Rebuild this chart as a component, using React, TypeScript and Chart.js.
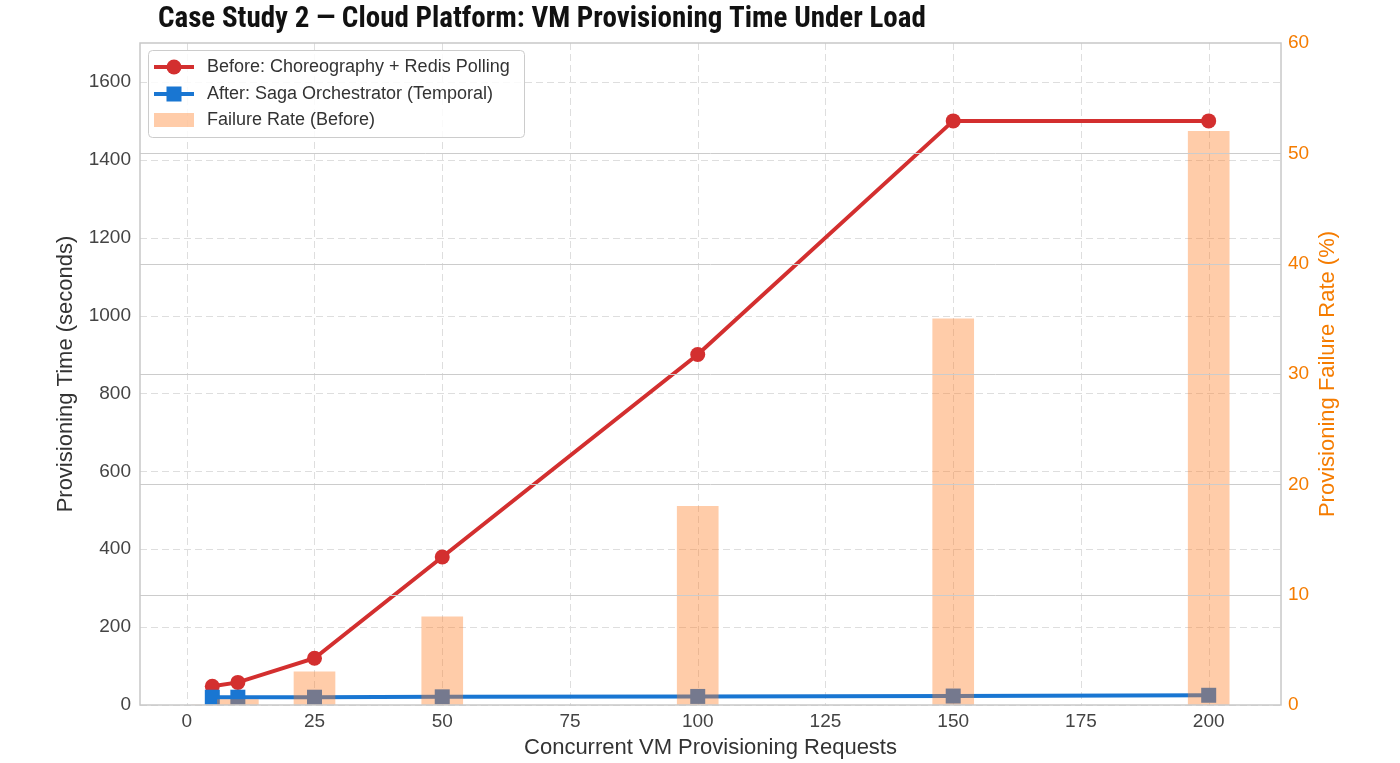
import { useEffect, useRef } from "react";
import { Chart, registerables } from "chart.js";

Chart.register(...registerables);

const requests = [5, 10, 25, 50, 100, 150, 200];
const beforeTime = [48, 58, 120, 380, 900, 1500, 1500];
const afterTime = [20, 20, 20, 21, 22, 23, 25];
const failureRate = [0, 0.5, 3, 8, 18, 35, 52];

const xTicks = [0, 25, 50, 75, 100, 125, 150, 175, 200];
const leftTicks = [0, 200, 400, 600, 800, 1000, 1200, 1400, 1600];
const rightTicks = [0, 10, 20, 30, 40, 50, 60];

const TITLE = "Case Study 2 — Cloud Platform: VM Provisioning Time Under Load";
const X_TITLE = "Concurrent VM Provisioning Requests";
const Y_TITLE = "Provisioning Time (seconds)";
const Y1_TITLE = "Provisioning Failure Rate (%)";
const LABEL_BEFORE = "Before: Choreography + Redis Polling";
const LABEL_AFTER = "After: Saga Orchestrator (Temporal)";
const LABEL_FAIL = "Failure Rate (Before)";

const RED = "#d32f2f";
const BLUE = "#1976d2";
const ORANGE = "#f57c00";
const BAR_FILL = "rgba(255,128,40,0.4)";
const FONT = '"Liberation Sans", Arial, sans-serif';

const plain = (v: any) => String(v);

const overlay = {
  id: "overlay",
  beforeDatasetsDraw(chart: any) {
    const { ctx, chartArea: a, scales } = chart;
    ctx.save();
    ctx.strokeStyle = "#dedede";
    ctx.lineWidth = 1;
    ctx.setLineDash([7, 4]);
    for (const v of xTicks) {
      const x = Math.round(scales.x.getPixelForValue(v)) + 0.5;
      ctx.beginPath();
      ctx.moveTo(x, a.top);
      ctx.lineTo(x, a.bottom);
      ctx.stroke();
    }
    for (const v of leftTicks) {
      const y = Math.round(scales.y.getPixelForValue(v)) + 0.5;
      ctx.beginPath();
      ctx.moveTo(a.left, y);
      ctx.lineTo(a.right, y);
      ctx.stroke();
    }
    ctx.restore();
  },
  afterDatasetsDraw(chart: any) {
    const { ctx, chartArea: a, scales } = chart;
    ctx.save();
    ctx.strokeStyle = "#cccccc";
    ctx.lineWidth = 1;
    for (const v of rightTicks) {
      const y = Math.round(scales.y1.getPixelForValue(v)) + 0.5;
      if (y <= a.top + 1 || y >= a.bottom - 1) continue;
      ctx.beginPath();
      ctx.moveTo(a.left, y);
      ctx.lineTo(a.right, y);
      ctx.stroke();
    }
    ctx.lineWidth = 1.5;
    ctx.strokeStyle = "#c8c8c8";
    ctx.strokeRect(a.left, a.top, a.right - a.left, a.bottom - a.top);
    ctx.restore();
  },
  afterDraw(chart: any) {
    const { ctx, chartArea: a } = chart;
    ctx.save();
    // Title
    ctx.fillStyle = "#111111";
    ctx.font = 'bold 29px "Roboto Condensed", "Liberation Sans Narrow", Roboto, sans-serif';
    ctx.textBaseline = "alphabetic";
    ctx.textAlign = "left";
    const w = ctx.measureText(TITLE).width;
    const sx = Math.min(1, 768 / w);
    ctx.save();
    ctx.translate(158, 27);
    ctx.scale(sx, 1);
    ctx.fillText(TITLE, 0, 0);
    ctx.restore();

    // Axis titles
    const cy = (a.top + a.bottom) / 2;
    ctx.font = `22px ${FONT}`;
    ctx.textAlign = "center";
    ctx.textBaseline = "middle";
    ctx.fillStyle = "#333333";
    ctx.fillText(X_TITLE, (a.left + a.right) / 2, 748);
    ctx.save();
    ctx.translate(66, cy);
    ctx.rotate(-Math.PI / 2);
    ctx.fillText(Y_TITLE, 0, 0);
    ctx.restore();
    ctx.save();
    ctx.fillStyle = ORANGE;
    ctx.translate(1328, cy);
    ctx.rotate(-Math.PI / 2);
    ctx.fillText(Y1_TITLE, 0, 0);
    ctx.restore();

    // Legend
    const lx = 148, ly = 50, lw = 376, lh = 87;
    ctx.beginPath();
    ctx.roundRect(lx + 0.5, ly + 0.5, lw, lh, 4);
    ctx.fillStyle = "rgba(255,255,255,0.85)";
    ctx.fill();
    ctx.strokeStyle = "#cccccc";
    ctx.lineWidth = 1;
    ctx.stroke();

    const rows = [67, 94, 120];
    ctx.strokeStyle = RED;
    ctx.lineWidth = 4;
    ctx.beginPath();
    ctx.moveTo(154, rows[0]);
    ctx.lineTo(194, rows[0]);
    ctx.stroke();
    ctx.fillStyle = RED;
    ctx.beginPath();
    ctx.arc(174, rows[0], 7.5, 0, Math.PI * 2);
    ctx.fill();
    ctx.strokeStyle = BLUE;
    ctx.beginPath();
    ctx.moveTo(154, rows[1]);
    ctx.lineTo(194, rows[1]);
    ctx.stroke();
    ctx.fillStyle = BLUE;
    ctx.fillRect(174 - 7.5, rows[1] - 7.5, 15, 15);
    ctx.fillStyle = BAR_FILL;
    ctx.fillRect(154, rows[2] - 7, 40, 14);

    ctx.fillStyle = "#333333";
    ctx.font = `18px ${FONT}`;
    ctx.textAlign = "left";
    ctx.textBaseline = "middle";
    ctx.fillText(LABEL_BEFORE, 207, rows[0]);
    ctx.fillText(LABEL_AFTER, 207, rows[1]);
    ctx.fillText(LABEL_FAIL, 207, rows[2]);
    ctx.restore();
  },
};

export default function App() {
  const ref = useRef<HTMLCanvasElement | null>(null);
  useEffect(() => {
    document.body.style.margin = "0";
    const canvas = ref.current;
    if (!canvas) return;
    const chart = new Chart(canvas, {
      type: "line",
      data: {
        datasets: [
          {
            type: "bar",
            label: LABEL_FAIL,
            data: requests.map((x, i) => ({ x, y: failureRate[i] })) as any,
            backgroundColor: BAR_FILL,
            borderWidth: 0,
            barThickness: 41,
            yAxisID: "y1",
            order: 0,
          } as any,
          {
            type: "line",
            label: LABEL_AFTER,
            data: requests.map((x, i) => ({ x, y: afterTime[i] })),
            borderColor: BLUE,
            backgroundColor: BLUE,
            borderWidth: 4,
            pointStyle: "rect",
            pointRadius: 10.6,
            pointBorderWidth: 0,
            tension: 0,
            yAxisID: "y",
            order: 1,
          },
          {
            type: "line",
            label: LABEL_BEFORE,
            data: requests.map((x, i) => ({ x, y: beforeTime[i] })),
            borderColor: RED,
            backgroundColor: RED,
            borderWidth: 4,
            pointStyle: "circle",
            pointRadius: 7.5,
            pointBorderWidth: 0,
            tension: 0,
            yAxisID: "y",
            order: 2,
          },
        ],
      },
      options: {
        animation: false,
        responsive: false,
        layout: { padding: { top: 43, left: 0, right: 0, bottom: 0 } },
        plugins: {
          legend: { display: false },
          title: { display: false },
          tooltip: { enabled: false },
        },
        scales: {
          x: {
            type: "linear",
            min: -9.15,
            max: 214.15,
            offset: false,
            afterBuildTicks: (s: any) => {
              s.ticks = xTicks.map((v) => ({ value: v }));
            },
            afterFit: (s: any) => {
              s.height = 58;
            },
            ticks: { color: "#444444", font: { size: 19, family: FONT }, padding: 5, callback: plain },
            grid: { display: false, drawTicks: false, tickLength: 0 },
            border: { display: false },
          },
          y: {
            type: "linear",
            position: "left",
            min: 0,
            max: 1700,
            afterBuildTicks: (s: any) => {
              s.ticks = leftTicks.map((v) => ({ value: v }));
            },
            afterFit: (s: any) => {
              s.width = 140;
            },
            ticks: { color: "#444444", font: { size: 19, family: FONT }, padding: 9, callback: plain },
            grid: { display: false, drawTicks: false, tickLength: 0 },
            border: { display: false },
          },
          y1: {
            type: "linear",
            position: "right",
            min: 0,
            max: 60,
            afterBuildTicks: (s: any) => {
              s.ticks = rightTicks.map((v) => ({ value: v }));
            },
            afterFit: (s: any) => {
              s.width = 119;
            },
            ticks: { color: ORANGE, font: { size: 19, family: FONT }, padding: 7, callback: plain },
            grid: { display: false, drawTicks: false, tickLength: 0 },
            border: { display: false },
          },
        },
      } as any,
      plugins: [overlay],
    });
    return () => chart.destroy();
  }, []);
  return (
    <div style={{ position: "fixed", left: 0, top: 0, width: 1400, height: 763, background: "#ffffff" }}>
      <canvas ref={ref} width={1400} height={763} style={{ width: 1400, height: 763, display: "block" }} />
    </div>
  );
}
